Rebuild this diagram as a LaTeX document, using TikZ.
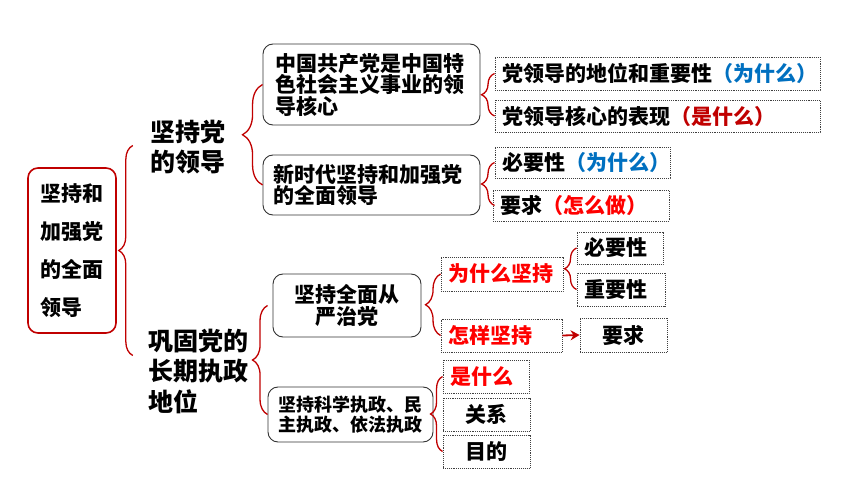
\documentclass[tikz,border=0pt]{standalone}
\usepackage{fontspec}
\newfontfamily\cjk{Noto Sans CJK SC}
\usepackage{xcolor}
\definecolor{mapRed}{HTML}{C00000}
\definecolor{askRed}{HTML}{FF0000}
\definecolor{askBlue}{HTML}{0070C0}
\usetikzlibrary{decorations.pathreplacing,arrows.meta}

\tikzset{
  rootbox/.style={draw=mapRed, line width=1.6pt, rounded corners=10pt, minimum height=165pt,
    inner xsep=12pt, text width=64pt, align=left, font=\cjk\bfseries\fontsize{21}{38}\selectfont},
  topicbox/.style={draw=black!80, line width=0.9pt, rounded corners=10pt, inner ysep=0pt,
    font=\cjk\bfseries\fontsize{21}{21.5}\selectfont},
  leafbox/.style={draw=black!75, densely dotted, line width=0.9pt, inner xsep=7pt, inner ysep=0pt,
    minimum height=33pt, align=left, font=\cjk\bfseries\fontsize{21}{23}\selectfont},
  headtext/.style={inner sep=0pt, align=left, font=\cjk\bfseries\fontsize{25}{30.5}\selectfont},
  brc/.style={draw=mapRed, line width=1.3pt, decorate, decoration={brace, amplitude=#1}}
}

\begin{document}
\begin{tikzpicture}[x=1pt,y=-1pt]
  \useasboundingbox (0,0) rectangle (860,484);
  % root and the two main branches
  \node[rootbox] (root) at (72,250.5) {坚持和\\加强党\\的全面\\领导};
  \node[headtext] (lead) at (188,147) {坚持党\\的领导};
  \node[headtext, anchor=west] (rule) at (148,371) {巩固党的\\长期执政\\地位};
  \draw[brc=14pt] ([shift={(16,105)}]root.east) -- ([shift={(16,-105)}]root.east);

  % first branch
  \node[topicbox, minimum width=217pt, minimum height=81pt, inner xsep=12pt, text width=193pt, align=left] (core) at (371.5,84.5)
    {中国共产党是中国特\\色社会主义事业的领\\导核心};
  \node[topicbox, minimum width=217pt, minimum height=60pt, inner xsep=10pt, text width=197pt, align=left] (newera) at (371.5,185)
    {新时代坚持和加强党\\的全面领导};
  \draw[brc=20pt] (newera.west) -- (core.west);

  \node[leafbox, text width=311pt] (status) at (657.5,73.5) {党领导的地位和重要性\textcolor{askBlue}{（为什么）}};
  \node[leafbox, text width=311pt, minimum height=32pt] (show) at (657.5,116) {党领导核心的表现\textcolor{mapRed}{（是什么）}};
  \draw[brc=13pt] (show.west) -- (status.west);

  \node[leafbox, text width=161pt, minimum height=31pt] (need) at (582.5,162.5) {必要性\textcolor{askBlue}{（为什么）}};
  \node[leafbox, text width=162pt, minimum height=31pt] (ask) at (581,205.5) {要求\textcolor{askRed}{（怎么做）}};
  \draw[brc=13pt] (need.west |- ask.west) -- (need.west);

  % second branch
  \node[topicbox, minimum width=148pt, minimum height=63pt, align=center, font=\cjk\bfseries\fontsize{21}{22}\selectfont] (strict) at (347,305.5)
    {坚持全面从\\严治党};
  \node[topicbox, minimum width=165pt, minimum height=55pt, align=center, font=\cjk\bfseries\fontsize{18}{20}\selectfont] (govern) at (350.5,414.5)
    {坚持科学执政、民\\主执政、依法执政};
  \draw[brc=15pt] (govern.west) -- (strict.west -| govern.west);

  \node[leafbox, text width=108pt, minimum height=34pt, text=askRed] (why) at (502,274) {为什么坚持};
  \node[leafbox, text width=107pt, text=askRed] (how) at (501.5,335.5) {怎样坚持};
  \draw[brc=15pt] (how.west) -- (why.west);

  \node[leafbox, text width=72pt, minimum height=32pt] (must) at (620,248) {必要性};
  \node[leafbox, text width=74pt] (weight) at (621,289.5) {重要性};
  \draw[brc=12pt] (must.west |- weight.west) -- (must.west);

  \node[leafbox, text width=73pt, minimum height=34pt, align=center] (req) at (623.5,335) {要求};
  \draw[mapRed, line width=1.8pt, -{Stealth[length=9pt,width=10pt]}] (how.east) -- (req.west);

  \node[leafbox, text width=72pt, text=askRed] (what) at (486,376.5) {是什么};
  \node[leafbox, text width=73pt, align=center] (link) at (486.5,414.5) {关系};
  \node[leafbox, text width=73pt, align=center] (aim) at (486.5,451.5) {目的};
  \draw[brc=12pt] (what.west |- aim.west) -- (what.west);
\end{tikzpicture}
\end{document}
